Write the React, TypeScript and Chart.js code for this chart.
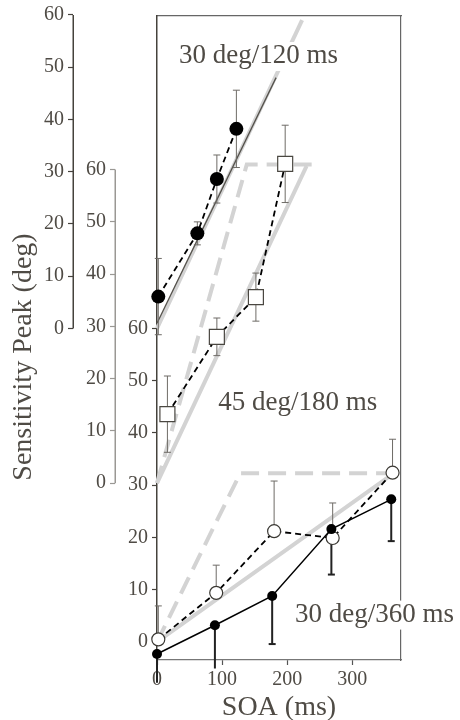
import React, { useEffect, useRef } from 'react';
import { Chart, registerables } from 'chart.js';

Chart.register(...registerables);

// ---------- data ----------
// Panel A: 30 deg/120 ms (large filled circles)
const aSoa = [2, 62, 92, 122];
const aPeak = [6.1, 18.2, 28.6, 38.2];
const aErr = [7.3, 2.2, 4.6, 7.4];
const aFitSoa = [0, 183];
const aFitPeak = [1, 48];
const aModelSoa = [0, 223];
const aModelPeak = [0, 59];

// Panel B: 45 deg/180 ms (open squares)
const bSoa = [16, 92, 152, 197];
const bPeak = [13.2, 28.0, 35.6, 61.1];
const bErr = [7.3, 3.6, 4.6, 7.4];
const bModelSolidSoa = [0, 230];
const bModelSolidPeak = [0, 60.7];
const bModelDashSoa = [0, 138, 240];
const bModelDashPeak = [0, 61, 61];

// Panel C: 30 deg/360 ms (open circles + small filled circles)
const cOpenSoa = [2, 91, 180, 270, 362];
const cOpenPeak = [0.5, 9.4, 21.2, 19.9, 32.4];
const cOpenErr = [6.4, 5.3, 9.6, 6.7, 6.4];
const cFilledSoa = [0, 89, 177, 268, 360];
const cFilledPeak = [-2.3, 3.2, 8.8, 21.6, 27.3];
const cFilledErr = [5.5, 8.3, 9.2, 8.7, 8.0];
const cModelSolidSoa = [0, 355];
const cModelSolidPeak = [0, 31.5];
const cModelDashSoa = [0, 128, 355];
const cModelDashPeak = [0, 32.3, 32.3];

const xTicks = [0, 100, 200, 300];
const yTicks = [0, 10, 20, 30, 40, 50, 60];
const panelLabels = ['30 deg/120 ms', '45 deg/180 ms', '30 deg/360 ms'];
const xTitle = 'SOA (ms)';
const yTitle = 'Sensitivity Peak (deg)';

// ---------- styling / layout ----------
const SERIF = '"Liberation Serif", "Times New Roman", Times, serif';
const TEXT = '#4f4b45';
const GRAY_MODEL = '#d3d3d3';
const Y_MIN = -3.45;
const Y_MAX = 119.8;
const OFFSET_A = 60;
const OFFSET_B = 30.4;
const X_MAX = 375;

const pts = (xs: number[], ys: number[]) => xs.map((x, i) => ({ x, y: ys[i] }));

function errBars(xs: number[], ys: number[], errs: number[], mode: 'both' | 'up' | 'down', cap: number) {
  const data: { x: number; y: number | null }[] = [];
  const radius: number[] = [];
  xs.forEach((x, i) => {
    const y = ys[i];
    const e = errs[i];
    if (mode === 'both') {
      data.push({ x, y: y - e }, { x, y: y + e }, { x, y: null });
      radius.push(cap, cap, 0);
    } else {
      data.push({ x, y }, { x, y: mode === 'up' ? y + e : y - e }, { x, y: null });
      radius.push(0, cap, 0);
    }
  });
  return { data, radius };
}

function buildDatasets() {
  const base = { showLine: true, fill: false, clip: false as any, tension: 0, spanGaps: false };
  const model = (xs: number[], ys: number[], axis: string, dash: number[] = []) => ({
    ...base,
    yAxisID: axis,
    data: pts(xs, ys),
    borderColor: GRAY_MODEL,
    borderWidth: 4,
    borderDash: dash,
    borderCapStyle: 'butt',
    pointRadius: 0,
  });
  const bars = (eb: { data: any[]; radius: number[] }, axis: string, color: string, width: number) => ({
    ...base,
    yAxisID: axis,
    data: eb.data,
    borderColor: color,
    borderWidth: width,
    pointStyle: 'line',
    pointRadius: eb.radius,
    pointBorderWidth: width,
    pointBorderColor: color,
    pointBackgroundColor: color,
  });

  const aBars = errBars(aSoa, aPeak, aErr, 'both', 3.5);
  const bBars = errBars(bSoa, bPeak, bErr, 'both', 3.5);
  const cOpenBars = errBars(cOpenSoa, cOpenPeak, cOpenErr, 'up', 3.5);
  const cFilledBars = errBars(cFilledSoa, cFilledPeak, cFilledErr, 'down', 3.5);

  const list: any[] = [
    model(aModelSoa, aModelPeak, 'yA'),
    {
      ...base,
      yAxisID: 'yA',
      data: pts(aFitSoa, aFitPeak),
      borderColor: '#55524c',
      borderWidth: 1.3,
      pointRadius: 0,
    },
    model(bModelDashSoa, bModelDashPeak, 'yB', [18, 9]),
    model(bModelSolidSoa, bModelSolidPeak, 'yB'),
    model(cModelDashSoa, cModelDashPeak, 'yC', [18, 9]),
    model(cModelSolidSoa, cModelSolidPeak, 'yC'),
    bars(aBars, 'yA', '#6e6b66', 1),
    bars(bBars, 'yB', '#6e6b66', 1),
    bars(cOpenBars, 'yC', '#6e6b66', 1),
    bars(cFilledBars, 'yC', '#222222', 2),
    {
      ...base,
      yAxisID: 'yC',
      data: pts(cOpenSoa, cOpenPeak),
      borderColor: '#000',
      borderWidth: 1.8,
      borderDash: [6, 4],
      pointRadius: 6.5,
      pointBackgroundColor: '#fff',
      pointBorderColor: '#3a3833',
      pointBorderWidth: 1.2,
    },
    {
      ...base,
      yAxisID: 'yC',
      data: pts(cFilledSoa, cFilledPeak),
      borderColor: '#000',
      borderWidth: 1.5,
      pointRadius: 5,
      pointBackgroundColor: '#000',
      pointBorderColor: '#000',
      pointBorderWidth: 0,
    },
    {
      ...base,
      yAxisID: 'yB',
      data: pts(bSoa, bPeak),
      borderColor: '#000',
      borderWidth: 1.8,
      borderDash: [6, 4],
      pointStyle: 'rect',
      pointRadius: 10.6,
      pointBackgroundColor: '#fff',
      pointBorderColor: '#4a4741',
      pointBorderWidth: 1.2,
    },
    {
      ...base,
      yAxisID: 'yA',
      data: pts(aSoa, aPeak),
      borderColor: '#000',
      borderWidth: 1.8,
      borderDash: [6, 4],
      pointRadius: 7,
      pointBackgroundColor: '#000',
      pointBorderColor: '#000',
      pointBorderWidth: 0,
    },
  ];
  const n = list.length;
  return list.map((d, i) => ({ ...d, order: n - i }));
}

const panelAxis = (offset: number, weight: number, width: number, lineColor: string, showBorder: boolean) => ({
  type: 'linear',
  position: 'left',
  weight,
  min: Y_MIN - offset,
  max: Y_MAX - offset,
  afterBuildTicks: (s: any) => {
    s.ticks = yTicks.map((v) => ({ value: v }));
  },
  afterFit: (s: any) => {
    s.width = width;
  },
  ticks: {
    color: TEXT,
    font: { family: SERIF, size: 20 },
    padding: 4,
  },
  grid: {
    display: true,
    drawOnChartArea: false,
    drawTicks: true,
    tickLength: 5,
    color: lineColor,
    tickWidth: 1.2,
  },
  border: { display: showBorder, color: lineColor, width: 1.5 },
});

const annotations = [
  { text: panelLabels[0], x: 34, y: 50.8, axis: 'yA' },
  { text: panelLabels[1], x: 94, y: 14, axis: 'yB' },
  { text: panelLabels[2], x: 212, y: 3.9, axis: 'yC' },
];

const decorPlugin = {
  id: 'decor',
  afterDraw(chart: any) {
    const ctx = chart.ctx as CanvasRenderingContext2D;
    // partial axis lines for the upper panels
    ([['yA', '#45423c'], ['yB', '#9a9894']] as [string, string][]).forEach(([id, color]) => {
      const s = chart.scales[id];
      const x = Math.round(s.right) + 0.25;
      ctx.save();
      ctx.strokeStyle = color;
      ctx.lineWidth = 1.5;
      ctx.beginPath();
      ctx.moveTo(x, s.getPixelForValue(yTicks[0]));
      ctx.lineTo(x, s.getPixelForValue(yTicks[yTicks.length - 1]));
      ctx.stroke();
      ctx.restore();
    });

    // panel labels
    ctx.save();
    ctx.font = `27px ${SERIF}`;
    ctx.textAlign = 'left';
    ctx.textBaseline = 'alphabetic';
    annotations.forEach((a) => {
      const px = chart.scales.x.getPixelForValue(a.x);
      const py = chart.scales[a.axis].getPixelForValue(a.y);
      const m = ctx.measureText(a.text);
      ctx.fillStyle = '#fff';
      ctx.fillRect(px - 1, py - m.actualBoundingBoxAscent - 2, m.width + 2, m.actualBoundingBoxAscent + m.actualBoundingBoxDescent + 4);
      ctx.fillStyle = TEXT;
      ctx.fillText(a.text, px, py);
    });
    ctx.restore();

    // y-axis title
    ctx.save();
    ctx.translate(24, 357);
    ctx.rotate(-Math.PI / 2);
    ctx.font = `28px ${SERIF}`;
    ctx.textAlign = 'center';
    ctx.textBaseline = 'middle';
    ctx.fillStyle = TEXT;
    ctx.fillText(yTitle, 0, 0);
    ctx.restore();
  },
};

export default function App() {
  const ref = useRef<HTMLCanvasElement>(null);
  useEffect(() => {
    if (!ref.current) return;
    const chart = new Chart(ref.current, {
      type: 'line',
      data: { datasets: buildDatasets() },
      options: {
        responsive: false,
        animation: false,
        devicePixelRatio: 1,
        layout: { padding: 0 },
        plugins: { legend: { display: false }, tooltip: { enabled: false } },
        elements: { line: { tension: 0 } },
        scales: {
          x: {
            type: 'linear',
            position: 'bottom',
            min: 0,
            max: X_MAX,
            afterBuildTicks: (s: any) => {
              s.ticks = xTicks.map((v) => ({ value: v }));
            },
            afterFit: (s: any) => {
              s.height = 60;
            },
            ticks: { color: TEXT, font: { family: SERIF, size: 20 }, padding: 3, maxRotation: 0 },
            grid: { display: true, drawOnChartArea: false, drawTicks: true, tickLength: 5, color: '#555', tickWidth: 1.2 },
            border: { display: true, color: '#777', width: 1.2 },
            title: {
              display: true,
              text: xTitle,
              color: TEXT,
              font: { family: SERIF, size: 28, lineHeight: 0.85 },
              padding: 0,
            },
          },
          xTop: {
            type: 'linear',
            position: 'top',
            min: 0,
            max: X_MAX,
            ticks: { display: false },
            grid: { display: false },
            border: { display: true, color: '#666', width: 1.2 },
            afterFit: (s: any) => {
              s.height = 15;
            },
          },
          yR: {
            type: 'linear',
            position: 'right',
            min: 0,
            max: 1,
            ticks: { display: false },
            grid: { display: false },
            border: { display: true, color: '#666', width: 1.2 },
            afterFit: (s: any) => {
              s.width = 59;
            },
          },
          yA: panelAxis(OFFSET_A, 2, 73, '#45423c', false),
          yB: panelAxis(OFFSET_B, 1, 42, '#9a9894', false),
          yC: panelAxis(0, 0, 42, '#45423c', true),
        } as any,
      },
      plugins: [decorPlugin],
    } as any);
    return () => chart.destroy();
  }, []);
  return (
    <div style={{ position: 'fixed', left: 0, top: 0, width: 460, height: 720, background: '#fff' }}>
      <canvas ref={ref} width={460} height={720} style={{ display: 'block' }} />
    </div>
  );
}
